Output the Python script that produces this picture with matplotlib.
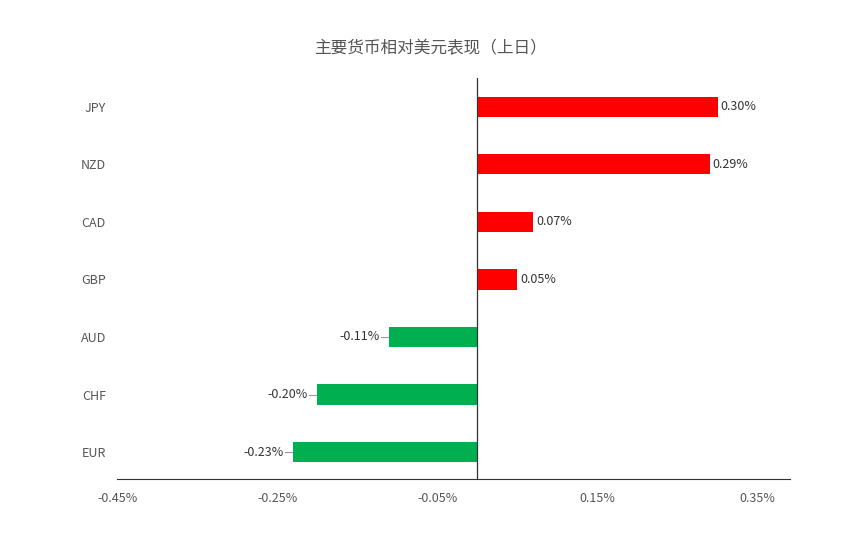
import matplotlib
matplotlib.use("Agg")
import matplotlib.pyplot as plt

plt.rcParams["font.family"] = ["Noto Sans CJK SC", "DejaVu Sans"]

currencies = ["EUR", "CHF", "AUD", "GBP", "CAD", "NZD", "JPY"]
changes = [-0.23, -0.20, -0.11, 0.05, 0.07, 0.29, 0.30]
xticks = [-0.45, -0.25, -0.05, 0.15, 0.35]

fig = plt.figure(figsize=(8.61, 5.42), dpi=100)
ax = fig.add_axes([0.136, 0.116, 0.782, 0.74])

colors = ["#FF0000" if v > 0 else "#00B050" for v in changes]
ypos = range(len(currencies))
ax.barh(ypos, changes, height=0.35, color=colors, zorder=2)

for y, v in zip(ypos, changes):
    if v > 0:
        ax.text(v + 0.004, y, f"{v:.2f}%", ha="left", va="center", fontsize=9, color="#333333")
    else:
        ax.plot([v - 0.002, v - 0.010], [y, y], color="#999999", lw=0.8)
        ax.text(v - 0.012, y, f"{v:.2f}%", ha="right", va="center", fontsize=9, color="#333333")

ax.set_xlim(-0.45, 0.391)
ax.set_ylim(-0.47, 6.5)
ax.set_xticks(xticks)
ax.set_xticklabels([f"{t:.2f}%" for t in xticks], fontsize=9, color="#555555")
ax.set_yticks(list(ypos))
ax.set_yticklabels(currencies, fontsize=9, color="#555555")
ax.tick_params(length=0)
ax.tick_params(axis="x", pad=9)
ax.tick_params(axis="y", pad=8)
for s in ["top", "right", "left"]:
    ax.spines[s].set_visible(False)
ax.spines["bottom"].set_color("#333333")
ax.axvline(0, color="#333333", lw=0.9, zorder=3)

fig.text(0.5, 0.91, "主要货币相对美元表现（上日）", ha="center", va="center",
         fontsize=12, color="#555555")

fig.savefig("out.png", dpi=100)
